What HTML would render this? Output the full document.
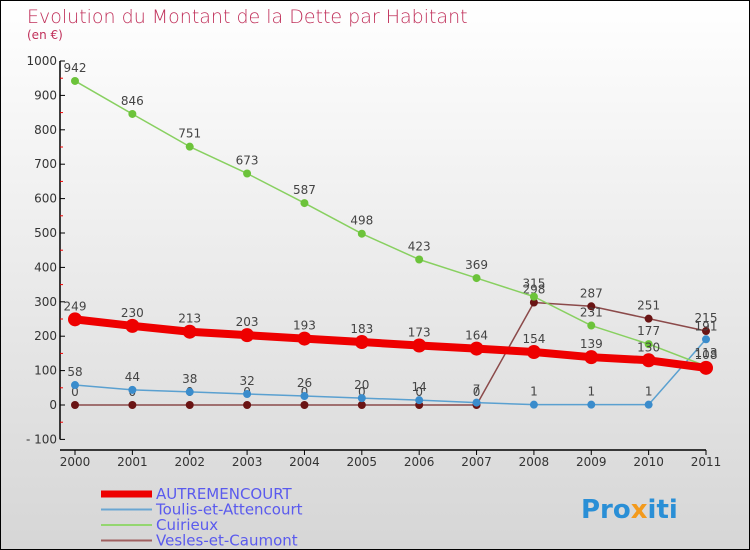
<!DOCTYPE html>
<html><head><meta charset="utf-8">
<style>
body{margin:0}
#wrap{width:748px;height:548px;border:1px solid #000;background:linear-gradient(#fff,#d6d6d6);position:relative;font-family:"DejaVu Sans","Liberation Sans",sans-serif;overflow:hidden}
</style></head><body>
<div id="wrap">
<svg id="svg" width="748" height="548">
<text x="26" y="22" font-size="19" fill="#c0305a" font-weight="200">Evolution du Montant de la Dette par Habitant</text>
<text x="26" y="38" font-size="12" fill="#c0305a">(en €)</text>
<g id="axes"></g><g id="series"></g><g id="legend"></g>
<text x="580" y="517" font-size="26" font-weight="bold" fill="#2a8fd6">Pro<tspan fill="#f39a1c">x</tspan>iti</text>
</svg>
</div>
<script>
const years=[2000,2001,2002,2003,2004,2005,2006,2007,2008,2009,2010,2011];
const autremencourt=[249,230,213,203,193,183,173,164,154,139,130,108];
const toulis=[58,44,38,32,26,20,14,7,1,1,1,191];
const cuirieux=[942,846,751,673,587,498,423,369,315,231,177,113];
const vesles=[0,0,0,0,0,0,0,0,298,287,251,215];
const yTicks=[-100,0,100,200,300,400,500,600,700,800,900,1000];
const NS="http://www.w3.org/2000/svg";
const X=i=>74+i*(705-74)/11;
const Y=v=>404-v*0.344;
function mk(tag,attrs,parent){const e=document.createElementNS(NS,tag);for(const k in attrs)e.setAttribute(k,attrs[k]);parent.appendChild(e);return e;}
const ax=document.getElementById('axes');
let l=mk('line',{x1:59,y1:Y(1000),x2:59,y2:Y(-100),stroke:'#000','stroke-width':1.5},ax);


l=mk('line',{x1:59,y1:449,x2:X(11),y2:449,stroke:'#000','stroke-width':1.5},ax);


yTicks.forEach((t,i)=>{
 mk('line',{x1:59,y1:Y(t),x2:64,y2:Y(t),stroke:'#000'},ax);
 if(i<yTicks.length-1)mk('line',{x1:59,y1:Y(t+50),x2:62,y2:Y(t+50),stroke:'#e00'},ax);
 const tx=mk('text',{x:56,y:Y(t)+4,'font-size':12,fill:'#333','text-anchor':'end'},ax);
 tx.textContent=t<0?'- '+(-t):t;
 
 
});
years.forEach((yr,i)=>{
 mk('line',{x1:X(i),y1:449,x2:X(i),y2:454,stroke:'#000'},ax);
 const tx=mk('text',{x:X(i),y:465,'font-size':12,fill:'#333','text-anchor':'middle'},ax);
 tx.textContent=yr;
 
 
});
const sg=document.getElementById('series');
function series(vals,color,w,r,name,stroke){
 const g=mk('g',{},sg);
 
 
 mk('polyline',{points:vals.map((v,i)=>X(i)+','+Y(v)).join(' '),fill:'none',stroke:color,'stroke-width':w,'stroke-linejoin':'round'},g);
 vals.forEach((v,i)=>{
  const c=mk('circle',{cx:X(i),cy:Y(v),r:r,fill:stroke||color},g);
  
  
  const t=mk('text',{x:X(i),y:Y(v)-9,'font-size':12,fill:'#444','text-anchor':'middle'},g);
  t.textContent=v;
  
  
 });
}
series(vesles,'#8b4a4a',1.5,4,'vesles','#6a1414');
series(toulis,'#5aa0d0',1.5,4,'toulis','#3a8ccc');
series(cuirieux,'#88d060',1.5,4,'cuirieux','#6cc33a');
series(autremencourt,'#ee0000',8,7,'autremencourt','#ee0000');
const lg=document.getElementById('legend');
[['AUTREMENCOURT','#ee0000',7],['Toulis-et-Attencourt','#6aa6d2',2],['Cuirieux','#94d670',2],['Vesles-et-Caumont','#a06060',2]].forEach((d,i)=>{
 const y=493+i*15.5;
 const g=mk('g',{},lg);
 
 
 mk('line',{x1:100,y1:y,x2:151,y2:y,stroke:d[1],'stroke-width':d[2]},g);
 const t=mk('text',{x:155,y:y+5,'font-size':15,fill:'#5a5aee'},g);
 t.textContent=d[0];
});
</script>
</body></html>
